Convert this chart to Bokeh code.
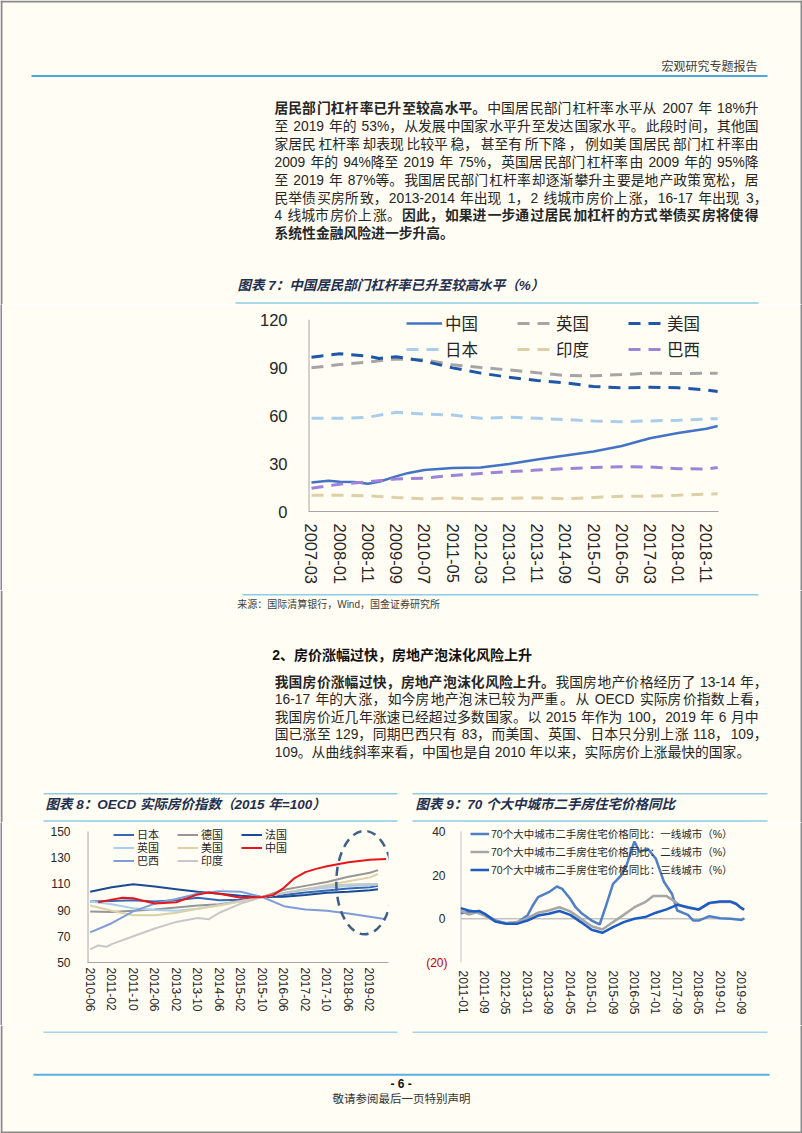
from bokeh.plotting import figure
from bokeh.models import Range1d, FixedTicker, Legend, LegendItem, Span, LinearAxis
from bokeh.layouts import column, row
from bokeh.core.properties import value
from bokeh.embed import file_html
from bokeh.resources import INLINE

BG = "#FFFDF4"
EDGE = "#8A8A8A"
FONT = "Liberation Sans, Noto Sans CJK SC"
CJK = "Noto Sans CJK SC"
LATIN = "Liberation Sans"
TXT = "#262626"
TITLE_C = "#1F2F4F"
RULE_C = "#8FCBE6"
AXIS_C = "#A6A6A6"
PAGE_W = 802
EDGE_W = 2

# ---------------- chart 7 data: household leverage (%) ----------------
X7_TICKS = ["2007-03", "2008-01", "2008-11", "2009-09", "2010-07", "2011-05", "2012-03", "2013-01",
            "2013-11", "2014-09", "2015-07", "2016-05", "2017-03", "2018-01", "2018-11"]
Y7_TICKS = [0, 30, 60, 90, 120]
M7 = ["2007-03", "2008-01", "2008-11", "2009-09", "2010-07", "2011-05", "2012-03", "2013-01",
      "2013-11", "2014-09", "2015-07", "2016-05", "2017-03", "2018-01", "2018-11", "2019-03"]
CN7_M = ["2007-03", "2007-09", "2008-01", "2008-06", "2008-11", "2009-03", "2009-09", "2010-01", "2010-07",
         "2011-05", "2012-03", "2013-01", "2013-11", "2014-09", "2015-07", "2016-05", "2017-03", "2018-01",
         "2018-11", "2019-03"]
CN7 = [18.2, 19.3, 18.6, 18.4, 17.4, 18.6, 22.0, 24.0, 26.0, 27.2, 27.6, 29.7, 32.6, 35.0, 37.5, 41.0,
       45.8, 49.1, 51.8, 53.5]
US7_M = ["2007-03", "2008-01", "2008-11", "2009-03", "2009-09", "2010-07", "2011-05", "2012-03", "2013-01",
         "2013-11", "2014-09", "2015-07", "2016-05", "2017-03", "2018-01", "2018-11", "2019-03"]
US7 = [96.6, 98.7, 97.2, 95.8, 96.8, 94.1, 89.9, 86.6, 84.0, 82.0, 80.5, 78.2, 77.4, 77.8, 77.4, 76.1, 75.1]
UK7 = [89.9, 92.0, 93.5, 95.5, 94.9, 91.8, 90.1, 88.6, 86.8, 85.1, 84.9, 85.7, 86.6, 86.3, 86.6, 86.6]
JP7 = [58.3, 58.3, 59.0, 62.1, 61.0, 60.4, 58.3, 59.0, 58.3, 57.5, 56.7, 56.2, 56.7, 57.1, 57.9, 58.1]
IN7 = [10.2, 10.2, 9.8, 8.8, 7.9, 8.4, 7.9, 8.2, 8.6, 7.9, 8.8, 9.6, 9.6, 10.2, 10.9, 11.1]
BR7 = [14.6, 17.1, 18.6, 20.3, 20.9, 22.6, 23.8, 24.9, 25.9, 26.8, 27.6, 28.0, 27.8, 26.8, 26.6, 27.6]

# ---------------- chart 8 data: OECD real house price index ----------------
X8_TICKS = ["2010-06", "2011-02", "2011-10", "2012-06", "2013-02", "2013-10", "2014-06", "2015-02",
            "2015-10", "2016-06", "2017-02", "2017-10", "2018-06", "2019-02"]
Y8_TICKS = [50, 70, 90, 110, 130, 150]
M8 = ["2010-06", "2011-02", "2011-10", "2012-06", "2013-02", "2013-10", "2014-06", "2015-02",
      "2015-10", "2016-06", "2017-02", "2017-10", "2018-06", "2019-02", "2019-05"]
JP8 = [96.5, 97.0, 97.5, 96.5, 97.5, 99.5, 97.5, 98.0, 100.0, 101.5, 103.5, 105.0, 106.5, 107.5, 108.5]
DE8 = [89.0, 88.5, 89.5, 90.5, 92.0, 93.5, 94.5, 97.0, 100.0, 105.5, 108.5, 111.5, 115.5, 118.5, 120.5]
FR8 = [104.0, 107.5, 109.8, 108.0, 106.0, 104.0, 102.5, 101.0, 100.0, 100.2, 101.5, 103.2, 104.0, 105.2, 106.0]
UK8 = [96.5, 94.5, 91.5, 90.0, 89.5, 91.0, 94.0, 97.0, 100.0, 103.0, 105.5, 107.0, 108.5, 109.0, 109.5]
US8 = [93.5, 89.5, 86.0, 86.0, 88.0, 91.0, 93.5, 96.5, 100.0, 103.0, 106.0, 109.0, 112.0, 115.0, 117.5]
CN8_M = ["2010-09", "2011-02", "2011-06", "2011-10", "2012-02", "2012-06", "2013-02", "2013-10", "2014-02",
         "2014-06", "2014-10", "2015-02", "2015-10", "2016-02", "2016-06", "2016-10", "2017-02", "2017-06",
         "2017-10", "2018-02", "2018-06", "2019-02", "2019-08"]
CN8 = [96.0, 98.0, 99.5, 99.0, 97.0, 95.0, 96.0, 102.0, 103.5, 102.5, 101.0, 99.5, 100.0, 101.5, 107.0,
       114.5, 119.0, 121.5, 123.5, 125.0, 126.5, 128.5, 129.0]
BR8_M = ["2010-06", "2011-02", "2011-10", "2012-06", "2013-02", "2013-10", "2014-06", "2015-02",
         "2015-10", "2016-06", "2017-02", "2017-10", "2018-06", "2019-02", "2019-08"]
BR8 = [73.0, 80.0, 89.0, 95.0, 98.5, 102.5, 104.5, 104.0, 100.0, 93.0, 90.5, 89.5, 87.5, 85.0, 83.0]
IN8_M = ["2010-06", "2010-09", "2010-12", "2011-02", "2011-10", "2012-06", "2013-02", "2013-10", "2014-02",
         "2014-06", "2015-02", "2015-10", "2016-06", "2017-02", "2017-10", "2018-06", "2019-02", "2019-05"]
IN8 = [60.0, 63.0, 62.0, 64.0, 70.0, 76.0, 81.0, 84.0, 83.0, 88.0, 95.0, 100.0, 103.0, 106.0, 108.5,
       109.5, 110.0, 110.0]
ELL_CENTER = ("2018-12", 111.0)
ELL_SIZE = (21.0, 79.0)

# ---------------- chart 9 data: 70-city second-hand housing price YoY (%) ----------------
X9_TICKS = ["2011-01", "2011-09", "2012-05", "2013-01", "2013-09", "2014-05", "2015-01", "2015-09",
            "2016-05", "2017-01", "2017-09", "2018-05", "2019-01", "2019-09"]
Y9_TICKS = [0, 20, 40]
Y9_NEG_TICKS = [-20]
T1_M = ["2010-12", "2011-05", "2011-09", "2012-01", "2012-05", "2012-09", "2013-01", "2013-03", "2013-05",
        "2013-09", "2013-12", "2014-02", "2014-05", "2014-07", "2014-09", "2015-01", "2015-04", "2015-06",
        "2015-09", "2015-12", "2016-02", "2016-05", "2016-07", "2016-10", "2017-01", "2017-04", "2017-07",
        "2017-09", "2018-01", "2018-03", "2018-05", "2018-09", "2019-01", "2019-05", "2019-09", "2019-10"]
T1 = [2.5, 3.4, 2.3, -0.8, -2.0, -1.8, 1.5, 6.1, 9.9, 12.2, 14.8, 13.7, 9.2, 5.3, 2.8, -0.8, -2.6, 4.6,
      16.0, 19.8, 24.4, 35.4, 30.5, 32.1, 27.5, 17.0, 11.5, 3.8, 1.8, -0.8, -0.8, 1.2, 0.3, 0.0, -0.5, 0.2]
T2_M = ["2010-12", "2011-03", "2011-06", "2011-09", "2012-01", "2012-05", "2012-09", "2013-01", "2013-05",
        "2013-09", "2014-01", "2014-05", "2014-09", "2015-01", "2015-05", "2015-09", "2016-01", "2016-05",
        "2016-09", "2016-12", "2017-05", "2017-08", "2017-10", "2018-01", "2018-05", "2018-09", "2019-01",
        "2019-05", "2019-07", "2019-09", "2019-10"]
T2 = [3.8, 2.0, 3.0, 1.5, -1.1, -2.0, -1.5, 0.3, 2.8, 3.8, 5.3, 3.4, 0.0, -3.4, -4.9, -1.5, 1.8, 5.3,
      7.6, 10.4, 10.4, 8.0, 6.2, 5.1, 4.1, 7.1, 7.7, 7.7, 6.7, 4.7, 4.1]
T3_M = ["2010-12", "2011-03", "2011-05", "2011-07", "2011-09", "2012-01", "2012-05", "2012-09", "2013-01",
        "2013-05", "2013-09", "2014-01", "2014-05", "2014-09", "2015-01", "2015-05", "2015-09", "2016-01",
        "2016-05", "2016-09", "2017-01", "2017-05", "2017-09", "2018-01", "2018-05", "2018-09", "2019-01",
        "2019-05", "2019-07", "2019-09", "2019-10"]
T3 = [4.9, 3.8, 3.4, 3.6, 2.3, -1.2, -2.3, -2.3, -0.8, 1.5, 2.3, 3.6, 1.8, -1.5, -5.0, -6.4, -3.8, -1.5,
      0.0, 0.8, 2.8, 4.3, 6.4, 5.3, 4.3, 7.3, 7.9, 7.9, 6.9, 4.9, 4.3]

# ---------------- page texts ----------------
HEADER = "宏观研究专题报告"
PARA1 = [
    [("居民部门杠杆率已升至较高水平。", True), ("中国居民部门杠杆率水平从 2007 年 18%升", False)],
    [("至 2019 年的 53%，从发展中国家水平升至发达国家水平。此段时间，其他国", False)],
    [("家居民杠杆率却表现比较平稳，甚至有所下降，例如美国居民部门杠杆率由", False)],
    [("2009 年的 94%降至 2019 年 75%，英国居民部门杠杆率由 2009 年的 95%降", False)],
    [("至 2019 年 87%等。我国居民部门杠杆率却逐渐攀升主要是地产政策宽松，居", False)],
    [("民举债买房所致，2013-2014 年出现 1，2 线城市房价上涨，16-17 年出现 3，", False)],
    [("4 线城市房价上涨。", False), ("因此，如果进一步通过居民加杠杆的方式举债买房将使得", True)],
    [("系统性金融风险进一步升高。", True)],
]
TITLE7 = "图表 7：中国居民部门杠杆率已升至较高水平（%）"
SOURCE7 = "来源：国际清算银行，Wind，国金证券研究所"
HEAD2 = "2、房价涨幅过快，房地产泡沫化风险上升"
PARA2 = [
    [("我国房价涨幅过快，房地产泡沫化风险上升。", True), ("我国房地产价格经历了 13-14 年，", False)],
    [("16-17 年的大涨，如今房地产泡沫已较为严重。从 OECD 实际房价指数上看，", False)],
    [("我国房价近几年涨速已经超过多数国家。以 2015 年作为 100，2019 年 6 月中", False)],
    [("国已涨至 129，同期巴西只有 83，而美国、英国、日本只分别上涨 118，109，", False)],
    [("109。从曲线斜率来看，中国也是自 2010 年以来，实际房价上涨最快的国家。", False)],
]
TITLE8 = "图表 8：OECD 实际房价指数（2015 年=100）"
TITLE9 = "图表 9：70 个大中城市二手房住宅价格同比"
L9 = ["70个大中城市二手房住宅价格同比：一线城市（%）",
      "70个大中城市二手房住宅价格同比：二线城市（%）",
      "70个大中城市二手房住宅价格同比：三线城市（%）"]
PAGE_NO = "- 6 -"
FOOTER = "敬请参阅最后一页特别声明"


def mi(s, base):
    y, m = map(int, s.split("-"))
    by, bm = map(int, base.split("-"))
    return (y - by) * 12 + (m - bm)


LATW = {" ": 0.278, "%": 0.889, "-": 0.333, "O": 0.778, "E": 0.667, "C": 0.722, "D": 0.722,
        "W": 0.944, "i": 0.222, "n": 0.556, "d": 0.556, "=": 0.584}


def est_w(s, size):
    return sum(1.0 if ord(c) > 0x2000 else LATW.get(c, 0.556) for c in s) * size


def split_chunks(line):
    out = []
    for seg, bold in line:
        cur, n = "", 0
        for ch in seg:
            cur += ch
            if ord(ch) > 0x2000:
                n += 1
            if ch in "，。、：" or ch == " " or n >= 3:
                out.append((cur, bold))
                cur, n = "", 0
        if cur:
            out.append((cur, bold))
    return out


def draw_para(p, lines, x0, x_right, y0, dy, size, color):
    buckets = {}
    for i, line in enumerate(lines):
        y = y0 + i * dy
        ch = split_chunks(line)
        last = (i == len(lines) - 1)
        widths = [est_w(t, size) for t, _ in ch]
        justify = (not last) and len(ch) > 1
        x1 = x_right
        gap = 0.0
        if justify:
            if line[-1][0][-1] in "，。":
                x1 = x_right + 0.65 * size
            gap = (x1 - x0 - sum(widths)) / (len(ch) - 1)
        x = x0
        for k, ((t, b), w) in enumerate(zip(ch, widths)):
            if justify and k == len(ch) - 1:
                key, pos, tt = (b, "right"), x1, t.rstrip()
            else:
                key, pos, tt = (b, "left"), x, t
            bx = buckets.setdefault(key, ([], [], []))
            bx[0].append(pos)
            bx[1].append(y)
            bx[2].append(tt)
            x += w + gap
    for (b, al), (xs, ys, ts) in buckets.items():
        p.text(x=xs, y=ys, text=ts, text_font=value(FONT), text_font_size=value(f"{size}px"),
               text_font_style="bold" if b else "normal", text_color=color,
               text_align=al, text_baseline="middle")


def txt(p, x, y, s, size, color=TXT, style="normal", align="left", font=FONT):
    p.text(x=[x], y=[y], text=[s], text_font=value(font), text_font_size=value(f"{size}px"),
           text_font_style=style, text_color=color, text_align=align, text_baseline="middle")


def rule(p, x0, x1, y, color=RULE_C, w=1.5):
    p.segment(x0=[x0], y0=[y], x1=[x1], y1=[y], line_color=color, line_width=w)


def page_fig(y_top, y_bot):
    p = figure(width=PAGE_W, height=int(round(y_bot - y_top)), x_range=Range1d(0, PAGE_W),
               y_range=Range1d(y_bot, y_top), output_backend="svg", toolbar_location=None,
               x_axis_type=None, y_axis_type=None, min_border=0)
    p.frame_align = False
    p.outline_line_color = None
    p.background_fill_color = BG
    p.border_fill_color = BG
    # page frame (left / right edges)
    p.segment(x0=[EDGE_W / 2, PAGE_W - EDGE_W / 2], y0=[y_top, y_top],
              x1=[EDGE_W / 2, PAGE_W - EDGE_W / 2], y1=[y_bot, y_bot], line_color=EDGE, line_width=EDGE_W)
    return p


def edge_fig(h):
    p = figure(width=EDGE_W, height=h, output_backend="svg", toolbar_location=None,
               x_axis_type=None, y_axis_type=None, min_border=0)
    p.frame_align = False
    p.outline_line_color = None
    p.background_fill_color = EDGE
    p.border_fill_color = EDGE
    return p


def style_chart(p, tick_size, ylabel_standoff, xlabel_standoff, axis_c=AXIS_C):
    p.frame_align = False
    p.outline_line_color = None
    p.background_fill_color = BG
    p.border_fill_color = BG
    p.xgrid.visible = False
    p.ygrid.visible = False
    for ax in (p.xaxis[0], p.yaxis[0]):
        ax.axis_line_color = axis_c
        ax.axis_line_width = 1
        ax.major_tick_line_color = None
        ax.minor_tick_line_color = None
        ax.major_tick_in = 0
        ax.major_tick_out = 0
        ax.minor_tick_in = 0
        ax.minor_tick_out = 0
        ax.major_label_text_font = LATIN
        ax.major_label_text_font_size = f"{tick_size}px"
        ax.major_label_text_color = TXT
    p.yaxis[0].axis_line_color = None   # value axis drawn only up to its top tick (see value_axis_line)
    p.yaxis[0].major_label_standoff = ylabel_standoff
    p.xaxis[0].major_label_standoff = xlabel_standoff
    p.xaxis[0].major_label_orientation = "vertical"


def value_axis_line(p, x_start, y0, y1, color=AXIS_C):
    p.segment(x0=[x_start], y0=[y0], x1=[x_start], y1=[y1], line_color=color, line_width=2)


def legend(items, loc, orient, gw, gh, lw, standoff, spacing, size, font=CJK):
    return Legend(items=items, location=loc, orientation=orient, glyph_width=gw, glyph_height=gh,
                  label_height=gh, label_width=lw, label_standoff=standoff, spacing=spacing,
                  padding=0, margin=0, border_line_color=None, background_fill_alpha=0,
                  label_text_font=font, label_text_font_size=f"{size}px", label_text_color=TXT)


# ================= section 1: header + paragraph 1 + title 7 =================
s1 = page_fig(0, 304)
s1.segment(x0=[0], y0=[EDGE_W / 2], x1=[PAGE_W], y1=[EDGE_W / 2], line_color=EDGE, line_width=EDGE_W)
txt(s1, 757, 65, HEADER, 12, color="#404040", align="right", font=CJK)
rule(s1, 31, 767, 75.5, color="#4FA6DC", w=2)
draw_para(s1, PARA1, 274, 758, 108.3, 17.86, 13.8, TXT)
txt(s1, 237, 285, TITLE7, 13.5, color=TITLE_C, style="bold italic")
rule(s1, 235, 758, 302.5)

# ================= chart 7 =================
B7 = "2007-03"
X7_RANGE = (-1.06, 144.3)
Y7_TOP = 128.3          # frame extends a little above the 120 tick so that the legend sits inside it
H7 = 286
p7 = figure(width=PAGE_W - 2 * EDGE_W, height=H7, x_range=Range1d(*X7_RANGE), y_range=Range1d(0, Y7_TOP),
            output_backend="svg", toolbar_location=None,
            min_border_left=308 - EDGE_W, min_border_right=84 - EDGE_W, min_border_top=2, min_border_bottom=79)
style_chart(p7, 16.5, 21, 12)
p7.yaxis[0].ticker = FixedTicker(ticks=Y7_TICKS)
p7.xaxis[0].ticker = FixedTicker(ticks=[mi(t, B7) for t in X7_TICKS])
p7.xaxis[0].major_label_overrides = {mi(t, B7): t for t in X7_TICKS}
value_axis_line(p7, X7_RANGE[0], Y7_TICKS[0], Y7_TICKS[-1])
x7 = [mi(m, B7) for m in M7]
r_cn = p7.line([mi(m, B7) for m in CN7_M], CN7, line_color="#4472C4", line_width=2.5)
r_uk = p7.line(x7, UK7, line_color="#A5A5A5", line_width=3, line_dash="12 8")
r_us = p7.line([mi(m, B7) for m in US7_M], US7, line_color="#1F57A8", line_width=3, line_dash="12 8")
r_jp = p7.line(x7, JP7, line_color="#A9CDEA", line_width=3, line_dash="12 8")
r_in = p7.line(x7, IN7, line_color="#DDD0A7", line_width=3, line_dash="12 8")
r_br = p7.line(x7, BR7, line_color="#9D84D8", line_width=3, line_dash="12 8")
p7.add_layout(legend([LegendItem(label="中国", renderers=[r_cn]), LegendItem(label="英国", renderers=[r_uk]),
                      LegendItem(label="美国", renderers=[r_us])],
                     (98, 176), "horizontal", 36, 24, 50, 3, 22, 16.5))
p7.add_layout(legend([LegendItem(label="日本", renderers=[r_jp]), LegendItem(label="印度", renderers=[r_in]),
                      LegendItem(label="巴西", renderers=[r_br])],
                     (98, 150), "horizontal", 36, 24, 50, 3, 22, 16.5))

# ================= section 3: source, section 2 text, titles 8/9 =================
s3 = page_fig(590, 822)
rule(s3, 242, 758, 594.3)
txt(s3, 236.7, 604, SOURCE7, 10, color="#404040")
txt(s3, 271.7, 654, HEAD2, 14, color="#111111", style="bold")
draw_para(s3, PARA2, 274.3, 758, 681.7, 17.5, 13.8, TXT)
rule(s3, 43, 397, 793.3)
rule(s3, 412, 767, 793.3)
txt(s3, 45, 804, TITLE8, 13.5, color=TITLE_C, style="bold italic")
txt(s3, 415, 804, TITLE9, 13.5, color=TITLE_C, style="bold italic")
rule(s3, 43, 397, 820.5)
rule(s3, 412, 767, 820.5)

# ================= chart 8 =================
B8 = "2010-06"
X8_RANGE = (-1.0, 110.9)
H89 = 203
Y8_TOP = 156.9          # frame reaches a little above 150 so the legend stays inside it
p8 = figure(width=401 - EDGE_W, height=H89, x_range=Range1d(*X8_RANGE), y_range=Range1d(50, Y8_TOP),
            output_backend="svg", toolbar_location=None,
            min_border_left=87 - EDGE_W, min_border_right=13, min_border_top=0, min_border_bottom=63)
style_chart(p8, 12, 17, 5)
p8.yaxis[0].ticker = FixedTicker(ticks=Y8_TICKS)
p8.xaxis[0].ticker = FixedTicker(ticks=[mi(t, B8) for t in X8_TICKS])
p8.xaxis[0].major_label_overrides = {mi(t, B8): t for t in X8_TICKS}
value_axis_line(p8, X8_RANGE[0], Y8_TICKS[0], Y8_TICKS[-1])
x8 = [mi(m, B8) for m in M8]
r8_jp = p8.line(x8, JP8, line_color="#3569B5", line_width=2)
r8_de = p8.line(x8, DE8, line_color="#969696", line_width=2)
r8_fr = p8.line(x8, FR8, line_color="#1B4A94", line_width=2)
r8_uk = p8.line(x8, UK8, line_color="#A9CFEA", line_width=2)
r8_us = p8.line(x8, US8, line_color="#DDD0A5", line_width=2)
r8_br = p8.line([mi(m, B8) for m in BR8_M], BR8, line_color="#7D9CD8", line_width=2)
r8_in = p8.line([mi(m, B8) for m in IN8_M], IN8, line_color="#C7C7C7", line_width=2)
r8_cn = p8.line([mi(m, B8) for m in CN8_M], CN8, line_color="#E8161B", line_width=2)
p8.ellipse(x=[mi(ELL_CENTER[0], B8)], y=[ELL_CENTER[1]], width=ELL_SIZE[0], height=ELL_SIZE[1],
           fill_color=None, line_color="#3E5F8A", line_width=2.5, line_dash="9 6")
leg8 = [[("日本", r8_jp), ("德国", r8_de), ("法国", r8_fr)],
        [("英国", r8_uk), ("美国", r8_us), ("中国", r8_cn)],
        [("巴西", r8_br), ("印度", r8_in)]]
for rowitems, yoff in zip(leg8, (120, 107, 94)):
    p8.add_layout(legend([LegendItem(label=l, renderers=[r]) for l, r in rowitems],
                         (26, yoff), "horizontal", 21, 13, 30, 3, 10, 11, font=FONT))

# ================= chart 9 =================
B9 = "2011-01"
X9_RANGE = (-1.0, 105.5)
Y9_TOP = 44.1
p9 = figure(width=401 - EDGE_W, height=H89, x_range=Range1d(*X9_RANGE), y_range=Range1d(-20, Y9_TOP),
            output_backend="svg", toolbar_location=None,
            min_border_left=59, min_border_right=57 - EDGE_W, min_border_top=0, min_border_bottom=63)
style_chart(p9, 12, 15, 8, axis_c="#BFBFBF")
p9.xaxis[0].axis_line_color = None
p9.yaxis[0].ticker = FixedTicker(ticks=Y9_TICKS)
p9.xaxis[0].ticker = FixedTicker(ticks=[mi(t, B9) for t in X9_TICKS])
p9.xaxis[0].major_label_overrides = {mi(t, B9): t for t in X9_TICKS}
value_axis_line(p9, X9_RANGE[0], Y9_NEG_TICKS[0], Y9_TICKS[-1], color="#BFBFBF")
neg_axis = LinearAxis(ticker=FixedTicker(ticks=Y9_NEG_TICKS),
                      major_label_overrides={t: f"({abs(t)})" for t in Y9_NEG_TICKS},
                      axis_line_color=None, major_tick_line_color=None, minor_tick_line_color=None,
                      major_tick_in=0, major_tick_out=0, minor_tick_in=0, minor_tick_out=0,
                      major_label_standoff=-18, major_label_text_color="#C00000",
                      major_label_text_font=LATIN, major_label_text_font_size="12px")
p9.add_layout(neg_axis, "left")
zero = Span(location=0, dimension="width", line_color="#A6A6A6", line_width=1, level="underlay")
p9.add_layout(zero)
r9_1 = p9.line([mi(m, B9) for m in T1_M], T1, line_color="#4F7FC8", line_width=2.5)
r9_2 = p9.line([mi(m, B9) for m in T2_M], T2, line_color="#A6A6A6", line_width=2.5)
r9_3 = p9.line([mi(m, B9) for m in T3_M], T3, line_color="#1C5BC2", line_width=2.5)
p9.add_layout(legend([LegendItem(label=L9[0], renderers=[r9_1]), LegendItem(label=L9[1], renderers=[r9_2]),
                      LegendItem(label=L9[2], renderers=[r9_3])],
                     (10, 85), "vertical", 19, 15, 20, 2, 3, 10.5, font=FONT))

# ================= section 5: footer =================
s5 = page_fig(1025, 1133)
s5.segment(x0=[0], y0=[1133 - EDGE_W / 2], x1=[PAGE_W], y1=[1133 - EDGE_W / 2], line_color=EDGE,
           line_width=EDGE_W)
rule(s5, 43, 397, 1031.7, color="#A5D5E5")
rule(s5, 412, 767, 1031.7, color="#A5D5E5")
rule(s5, 33, 769, 1074.3, color="#5AAEE0", w=2)
txt(s5, 400.7, 1083, PAGE_NO, 12, color="#111111", style="bold", align="center", font=LATIN)
txt(s5, 401, 1097.5, FOOTER, 11.5, color="#333333", align="center", font=CJK)

page = column(s1,
              row(edge_fig(H7), p7, edge_fig(H7), spacing=0),
              s3,
              row(edge_fig(H89), p8, p9, edge_fig(H89), spacing=0),
              s5, spacing=0)
open("out.html", "w").write(file_html(page, INLINE, title="宏观研究专题报告"))
